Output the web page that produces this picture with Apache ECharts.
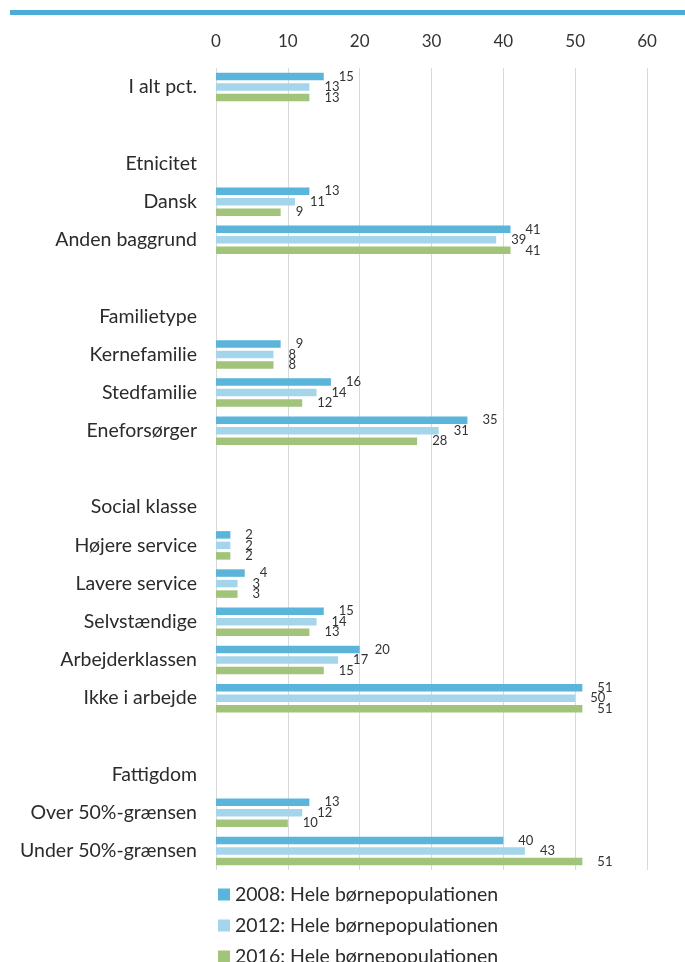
<!DOCTYPE html>
<html>
    <head>
        <meta charset="utf-8">
        <title>Børnefattigdom</title>
        <script src="https://cdn.jsdelivr.net/npm/echarts@6.0.0/dist/echarts.min.js"></script>
        <style>
            html, body { margin: 0; padding: 0; background: #fff; }
            #topline { position: absolute; left: 10px; top: 10px; width: 675px; height: 5px; background: #4BACD6; }
            #chart { width: 685px; height: 962px; }
        </style>
    </head>
    <body>
    <div id="topline"></div>
    <div id="chart"></div>
    <script>
        // kategorier (tomme rækker = mellemrum mellem grupper)
        var categories = ['I alt pct.', ' ', 'Etnicitet', 'Dansk', 'Anden baggrund', '  ',
            'Familietype', 'Kernefamilie', 'Stedfamilie', 'Eneforsørger', '   ',
            'Social klasse', 'Højere service', 'Lavere service', 'Selvstændige', 'Arbejderklassen', 'Ikke i arbejde', '    ',
            'Fattigdom', 'Over 50%-grænsen', 'Under 50%-grænsen'];
        var seriesNames = ['2008: Hele børnepopulationen', '2012: Hele børnepopulationen', '2016: Hele børnepopulationen'];
        var values2008 = [15, null, null, 13, 41, null, null, 9, 16, 35, null, null, 2, 4, 15, 20, 51, null, null, 13, 40];
        var values2012 = [13, null, null, 11, 39, null, null, 8, 14, 31, null, null, 2, 3, 14, 17, 50, null, null, 12, 43];
        var values2016 = [13, null, null, 9, 41, null, null, 8, 12, 28, null, null, 2, 3, 13, 15, 51, null, null, 10, 51];
        var xTicks = [0, 10, 20, 30, 40, 50, 60];

        var colors = ['#5BB4DA', '#A5D5EA', '#A2C37A'];
        var font = 'Lato, "Open Sans", sans-serif';

        var chartDom = document.getElementById('chart');
        var myChart = echarts.init(chartDom);

        function makeSeries(name, data, color) {
            return {
                name: name,
                type: 'bar',
                data: data,
                barWidth: 7.5,
                barGap: '40%',
                itemStyle: { color: color },
                label: {
                    show: true,
                    position: 'right',
                    distance: 15,
                    color: '#333',
                    fontFamily: font,
                    fontSize: 13
                }
            };
        }

        var option = {
            animation: false,
            textStyle: { fontFamily: font },
            grid: {
                left: 216,
                right: 38,
                top: 68,
                bottom: 92
            },
            xAxis: {
                type: 'value',
                position: 'top',
                min: xTicks[0],
                max: xTicks[xTicks.length - 1],
                interval: 10,
                axisLine: { show: false },
                axisTick: { show: false },
                axisLabel: { color: '#333', fontSize: 17, fontFamily: font, margin: 18 },
                splitLine: { show: true, lineStyle: { color: '#D9D9D9', width: 1 } }
            },
            yAxis: {
                type: 'category',
                inverse: true,
                data: categories,
                axisLine: { show: false },
                axisTick: { show: false },
                axisLabel: { color: '#2b2b2b', fontSize: 19.5, fontFamily: font, margin: 19, interval: 0 }
            },
            legend: {
                orient: 'vertical',
                left: 218,
                top: 884,
                height: 100,
                padding: 0,
                itemWidth: 12,
                itemHeight: 12,
                itemGap: 10,
                icon: 'rect',
                textStyle: { color: '#2b2b2b', fontSize: 19.5, fontFamily: font, lineHeight: 21 },
                data: seriesNames
            },
            series: [
                makeSeries(seriesNames[0], values2008, colors[0]),
                makeSeries(seriesNames[1], values2012, colors[1]),
                makeSeries(seriesNames[2], values2016, colors[2])
            ]
        };
        option && myChart.setOption(option);
    </script>
    </body>
</html>
